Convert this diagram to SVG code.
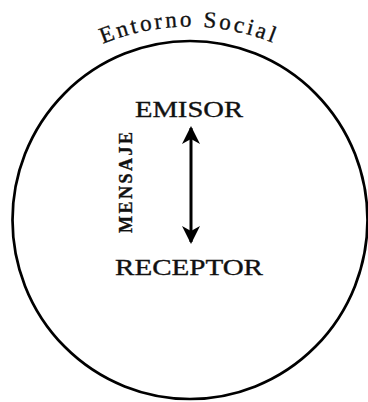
<svg xmlns="http://www.w3.org/2000/svg" width="368" height="402" viewBox="0 0 368 402">
  <style>
    .lbl { font-family: "Liberation Serif", "Times New Roman", serif; fill: #111; stroke: #111; stroke-width: 0.35; }
    .boundary { fill: #fff; stroke: #000; stroke-width: 2.7; }
    .link { stroke: #000; stroke-width: 3; fill: none; }
  </style>
  <defs>
    <marker id="head" viewBox="0 0 18 18" refX="16" refY="9" markerWidth="18" markerHeight="18" markerUnits="userSpaceOnUse" orient="auto-start-reverse">
      <path d="M0,0 L18,9 L0,18 L5,9 Z" fill="#000"/>
    </marker>
    <path id="envArc" d="M 100 45 A 226 226 0 0 1 278 45"/>
  </defs>
  <rect width="368" height="402" fill="#fff"/>

  <g id="entorno">
    <ellipse class="boundary" cx="190" cy="220" rx="177.5" ry="179"/>
    <text class="lbl" font-size="23"><textPath href="#envArc" startOffset="3" textLength="174" lengthAdjust="spacing">Entorno Social</textPath></text>
  </g>

  <g id="emisor">
    <text class="lbl" x="189" y="117" font-size="24" text-anchor="middle" textLength="108" lengthAdjust="spacingAndGlyphs">EMISOR</text>
  </g>

  <g id="receptor">
    <text class="lbl" x="189" y="275" font-size="24" text-anchor="middle" textLength="148" lengthAdjust="spacingAndGlyphs">RECEPTOR</text>
  </g>

  <g id="connectors">
    <line class="link" x1="191" y1="128" x2="191" y2="242" marker-start="url(#head)" marker-end="url(#head)"/>
    <text class="lbl" transform="translate(132,233) rotate(-90)" font-size="18" font-weight="bold" textLength="101" lengthAdjust="spacing">MENSAJE</text>
  </g>
</svg>
